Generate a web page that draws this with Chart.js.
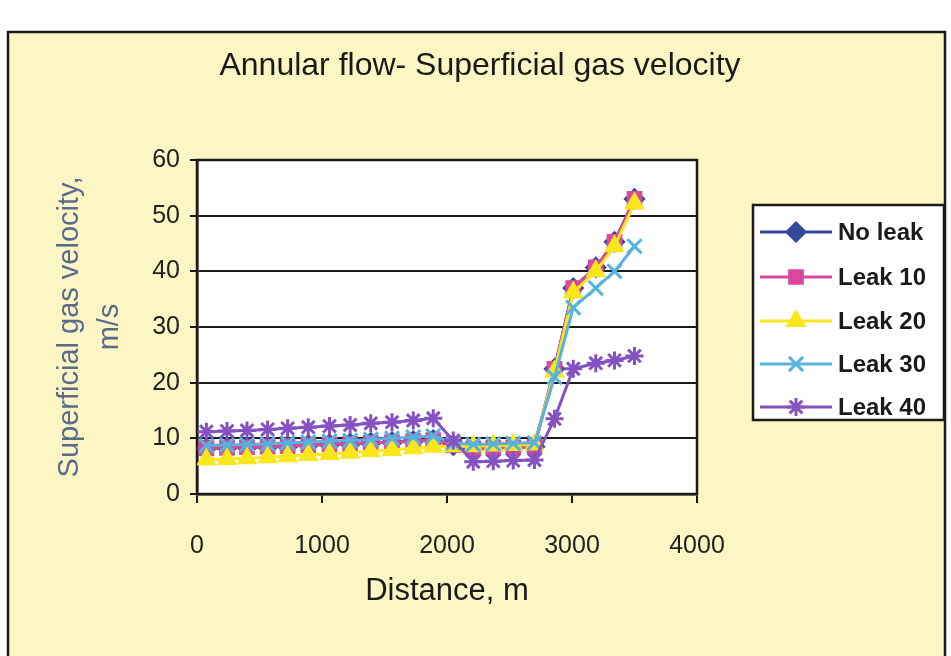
<!DOCTYPE html>
<html>
<head>
<meta charset="utf-8">
<title>Annular flow - superficial gas velocity</title>
<script src="https://cdn.jsdelivr.net/npm/chart.js@4.4.1/dist/chart.umd.min.js"></script>
<style>
  html, body { margin: 0; padding: 0; background: #fff; }
</style>
</head>
<body>
<canvas id="velocity-chart" width="951" height="656"></canvas>
<script>
// distance along the pipe, m
const distance = [75, 240, 400, 565, 725, 890, 1060, 1225, 1390, 1560, 1730, 1890,
                  2050, 2210, 2370, 2530, 2700, 2860, 3010, 3190, 3340, 3500];

// superficial gas velocity, m/s
const noLeak = [8.2, 8.3, 8.4, 8.5, 8.6, 8.8, 8.9, 9.0, 9.2, 9.3, 9.5, 9.7,
                8.8, 8.2, 8.3, 8.4, 8.5, 22.5, 37.0, 40.7, 45.3, 53.0];
const leak10 = [8.2, 8.3, 8.4, 8.5, 8.6, 8.8, 8.9, 9.0, 9.2, 9.3, 9.5, 9.7,
                8.8, 8.2, 8.3, 8.4, 8.5, 22.5, 37.0, 40.7, 45.3, 53.0];
const leak20 = [6.2, 6.3, 6.4, 6.6, 6.8, 7.0, 7.2, 7.4, 7.7, 7.9, 8.2, 8.5,
                8.6, 8.6, 8.7, 8.8, 8.9, 22.0, 36.2, 40.0, 44.5, 52.2];
const leak30 = [8.7, 8.8, 8.9, 9.0, 9.2, 9.3, 9.5, 9.6, 9.8, 10.0, 10.2, 10.4,
                9.2, 8.9, 9.0, 9.1, 9.2, 21.0, 33.5, 37.0, 40.0, 44.5];
const leak40 = [11.2, 11.3, 11.4, 11.6, 11.8, 12.0, 12.2, 12.4, 12.7, 12.9, 13.2, 13.6,
                9.6, 5.8, 5.9, 6.0, 6.1, 13.5, 22.5, 23.5, 24.0, 24.8];

const seriesNames = ['No leak', 'Leak 10', 'Leak 20', 'Leak 30', 'Leak 40'];
const xTicks = [0, 1000, 2000, 3000, 4000];
const yTicks = [0, 10, 20, 30, 40, 50, 60];

const ink = '#1a1a1a';
const sans = '"Liberation Sans", Arial, sans-serif';

function points(values) {
  return values.map((v, i) => ({ x: distance[i], y: v }));
}

function serie(label, values, color, style, radius, order) {
  return {
    label: label,
    data: points(values),
    borderColor: color,
    backgroundColor: color,
    borderWidth: 3,
    pointStyle: style,
    pointRadius: radius,
    pointBorderWidth: 3,
    pointBackgroundColor: color,
    pointBorderColor: color,
    tension: 0,
    order: order
  };
}

// yellow card, frame, white plot area and title
const backdrop = {
  id: 'backdrop',
  beforeDraw(chart) {
    const { ctx, chartArea: a, width, height } = chart;
    ctx.save();
    ctx.fillStyle = '#ffffff';
    ctx.fillRect(0, 0, width, height);
    ctx.fillStyle = '#fcf6c4';
    ctx.fillRect(8, 32, width - 14, height);
    ctx.strokeStyle = ink;
    ctx.lineWidth = 2.5;
    ctx.strokeRect(8, 32, width - 14, height);
    ctx.fillStyle = '#ffffff';
    ctx.fillRect(a.left, a.top, a.right - a.left, a.bottom - a.top);
    ctx.fillStyle = ink;
    ctx.font = '32px ' + sans;
    ctx.textAlign = 'center';
    ctx.textBaseline = 'middle';
    ctx.fillText('Annular flow- Superficial gas velocity', 480, 66);
    ctx.restore();
  },
  beforeDatasetsDraw(chart) {
    const { ctx, chartArea: a } = chart;
    ctx.save();
    ctx.strokeStyle = ink;
    ctx.lineWidth = 2.5;
    ctx.strokeRect(a.left, a.top, a.right - a.left, a.bottom - a.top);
    ctx.restore();
  }
};

// boxed legend on the right
const sideLegend = {
  id: 'sideLegend',
  afterDraw(chart) {
    const ctx = chart.ctx;
    const box = { x: 753, y: 205, w: 191, h: 215 };
    const rows = [232, 277, 321, 364, 407];
    ctx.save();
    ctx.fillStyle = '#ffffff';
    ctx.fillRect(box.x, box.y, box.w, box.h);
    ctx.strokeStyle = ink;
    ctx.lineWidth = 2.5;
    ctx.strokeRect(box.x, box.y, box.w, box.h);
    chart.data.datasets.forEach((ds, i) => {
      const y = rows[i];
      ctx.strokeStyle = ds.borderColor;
      ctx.fillStyle = ds.backgroundColor;
      ctx.lineWidth = 3;
      ctx.beginPath();
      ctx.moveTo(760, y);
      ctx.lineTo(832, y);
      ctx.stroke();
      Chart.helpers.drawPoint(ctx, {
        pointStyle: ds.pointStyle,
        radius: ds.pointRadius,
        borderWidth: ds.pointBorderWidth,
        rotation: 0
      }, 796, y);
      ctx.fillStyle = ink;
      ctx.font = 'bold 24px ' + sans;
      ctx.textAlign = 'left';
      ctx.textBaseline = 'middle';
      ctx.fillText(ds.label, 838, y + 1);
    });
    ctx.restore();
  }
};

const ctx = document.getElementById('velocity-chart').getContext('2d');
const chart = new Chart(ctx, {
  type: 'line',
  data: {
    datasets: [
      serie(seriesNames[0], noLeak, '#33479c', 'rectRot', 9, 5),
      serie(seriesNames[1], leak10, '#d8489f', 'rect', 9, 4),
      serie(seriesNames[2], leak20, '#f9e61c', 'triangle', 9, 3),
      serie(seriesNames[3], leak30, '#55b3de', 'crossRot', 10, 2),
      serie(seriesNames[4], leak40, '#8552c2', 'star', 9, 1)
    ]
  },
  options: {
    responsive: false,
    animation: false,
    devicePixelRatio: 1,
    layout: { padding: { top: 160, left: 45, right: 254, bottom: 40 } },
    plugins: {
      legend: { display: false },
      title: { display: false },
      tooltip: { enabled: false }
    },
    scales: {
      x: {
        type: 'linear',
        min: xTicks[0],
        max: xTicks[xTicks.length - 1],
        afterBuildTicks(scale) { scale.ticks = xTicks.map(v => ({ value: v })); },
        afterFit(scale) { scale.height = 122; },
        ticks: {
          padding: 28,
          color: '#222',
          font: { family: sans, size: 25 },
          callback: v => String(v)
        },
        grid: { drawOnChartArea: false, tickLength: 9, color: ink, lineWidth: 2 },
        border: { color: ink, width: 2.5 },
        title: {
          display: true,
          text: 'Distance, m',
          color: ink,
          font: { family: sans, size: 31 },
          padding: { top: 0, bottom: 6 }
        }
      },
      y: {
        min: yTicks[0],
        max: yTicks[yTicks.length - 1],
        afterBuildTicks(scale) { scale.ticks = yTicks.map(v => ({ value: v })); },
        afterFit(scale) { scale.width = 152; },
        ticks: {
          padding: 10,
          color: '#222',
          font: { family: sans, size: 25 },
          callback: v => String(v)
        },
        grid: { color: ink, lineWidth: 2, tickLength: 7 },
        border: { color: ink, width: 2.5 },
        title: {
          display: true,
          text: ['Superficial gas velocity,', 'm/s'],
          color: '#5a6b8c',
          font: { family: sans, size: 29, lineHeight: 1.38 },
          padding: { top: 5, bottom: 0 }
        }
      }
    }
  },
  plugins: [backdrop, sideLegend]
});
</script>
</body>
</html>
